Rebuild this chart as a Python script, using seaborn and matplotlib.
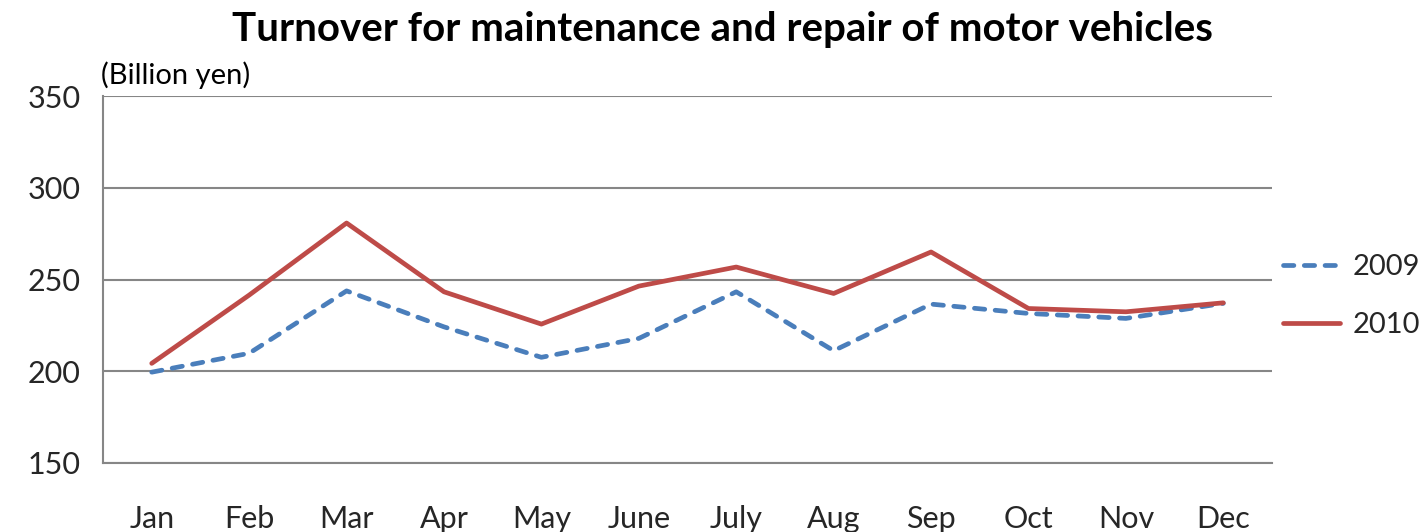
import matplotlib
matplotlib.use("Agg")
import matplotlib.pyplot as plt
import seaborn as sns
import pandas as pd
import numpy as np
from matplotlib.lines import Line2D

months = ["Jan", "Feb", "Mar", "Apr", "May", "June", "July", "Aug", "Sep", "Oct", "Nov", "Dec"]
y2009 = [199.5, 209.8, 243.8, 224.2, 207.6, 217.9, 243.3, 211.2, 236.6, 231.5, 228.8, 237.0]
y2010 = [204.3, 241.5, 280.8, 243.3, 225.7, 246.4, 256.8, 242.4, 265.0, 234.2, 232.4, 237.3]
years = ["2009", "2010"]
yticks = [150, 200, 250, 300, 350]

sns.set_theme(style="white")
plt.rcParams['font.family'] = ['Lato', 'DejaVu Sans']

df = pd.DataFrame({
    "month": months * 2,
    "idx": list(range(12)) * 2,
    "value": y2009 + y2010,
    "year": [years[0]] * 12 + [years[1]] * 12,
})

fig = plt.figure(figsize=(14.27, 5.32), dpi=100)
ax = fig.add_axes([0.0722, 0.1297, 0.8192, 0.6898])

blue = "#4a7ebb"
red = "#be4b48"
lw = 3.4
dash = (2.2, 2.2)
palette = {"2009": blue, "2010": red}
dashes = {"2009": dash, "2010": ""}
sns.lineplot(data=df, x="idx", y="value", hue="year", style="year", palette=palette,
             dashes=dashes, linewidth=lw, ax=ax, legend=False)
for l in ax.get_lines():
    l.set_dash_capstyle("round")
    l.set_solid_capstyle("round")

ax.set_xlim(-0.5, 11.5)
ax.set_ylim(150, 350)
ax.set_yticks(yticks)
ax.set_yticklabels([str(v) for v in yticks], fontsize=22)
ax.set_xticks(range(12))
ax.set_xticklabels(months, fontsize=22)
ax.set_xticks(np.arange(-0.5, 12, 1), minor=True)
ax.tick_params(axis="x", which="major", length=0, pad=30)
ax.tick_params(axis="x", which="minor", length=10, width=1.5, color="#868686", direction="out")
ax.tick_params(axis="y", which="major", length=8, width=1.5, color="#868686", direction="out", pad=8)
ax.set_xlabel("")
ax.set_ylabel("")
ax.grid(axis="y", color="#868686", linewidth=1.5)
ax.set_axisbelow(True)
for s in ["top", "right"]:
    ax.spines[s].set_visible(False)
for s in ["left", "bottom"]:
    ax.spines[s].set_color("#868686")
    ax.spines[s].set_linewidth(1.5)

fig.text(0.506, 0.945, "Turnover for maintenance and repair of motor vehicles",
         ha="center", va="center", fontsize=29, fontweight="bold", color="black")
fig.text(0.071, 0.858, "(Billion yen)", ha="left", va="center", fontsize=21, color="black")

handles = [Line2D([], [], color=blue, lw=lw, dashes=dash, dash_capstyle="round"),
           Line2D([], [], color=red, lw=lw, solid_capstyle="round")]
fig.legend(handles, years, loc="center left", bbox_to_anchor=(0.899, 0.444), frameon=False,
           fontsize=21, handlelength=1.95, labelspacing=1.1, handletextpad=0.45,
           borderpad=0, borderaxespad=0)

fig.savefig("out.png", dpi=100)
